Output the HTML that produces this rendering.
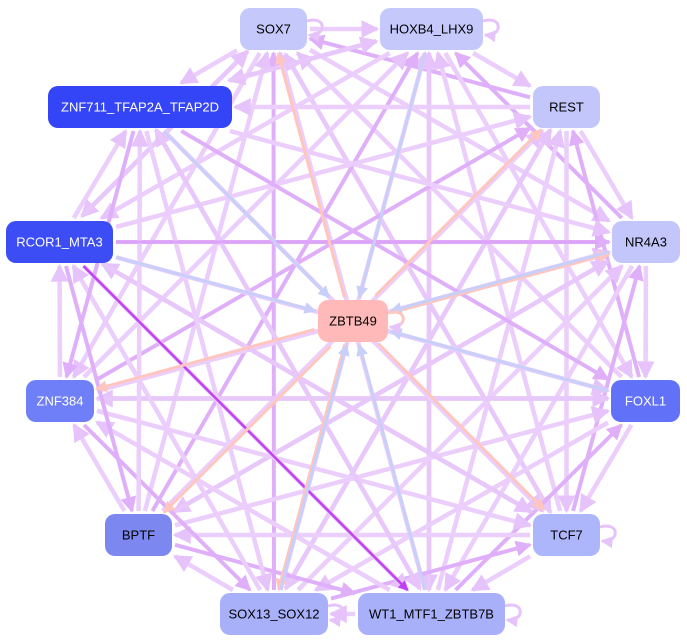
<!DOCTYPE html>
<html><head><meta charset="utf-8"><style>
body{margin:0;background:#fff}
svg{display:block}
text{font-family:"Liberation Sans",sans-serif;font-size:13px;text-anchor:middle;dominant-baseline:central}
</style></head><body>
<svg id="s" width="687" height="644" xmlns="http://www.w3.org/2000/svg">
<defs>
<marker id="a1" markerWidth="4" markerHeight="4" refX="3.5" refY="2" orient="auto" markerUnits="strokeWidth"><path d="M0,0L4,2L0,4z" fill="#e6c3fa"/></marker>
<marker id="a2" markerWidth="4" markerHeight="4" refX="3.5" refY="2" orient="auto" markerUnits="strokeWidth"><path d="M0,0L4,2L0,4z" fill="#dfb0f9"/></marker>
<marker id="a3" markerWidth="4" markerHeight="4" refX="3.5" refY="2" orient="auto" markerUnits="strokeWidth"><path d="M0,0L4,2L0,4z" fill="#c040f2"/></marker>
<marker id="a4" markerWidth="4" markerHeight="4" refX="3.5" refY="2" orient="auto" markerUnits="strokeWidth"><path d="M0,0L4,2L0,4z" fill="#ffc6c0"/></marker>
<marker id="a5" markerWidth="4" markerHeight="4" refX="3.5" refY="2" orient="auto" markerUnits="strokeWidth"><path d="M0,0L4,2L0,4z" fill="#c8cff8"/></marker>
</defs>
<g id="e"></g><g id="n"></g>
</svg>
<script>
var N={
SOX7:[240,8,67,42,'#c5c8fb','#000'],
HOXB4_LHX9:[380,8,103,42,'#c5c8fb','#000'],
ZNF711_TFAP2A_TFAP2D:[48,86,184,42,'#3445f7','#fff'],
REST:[533,86,67,42,'#c2c6fb','#000'],
RCOR1_MTA3:[6,221,107,42,'#3c4df5','#fff'],
NR4A3:[612,221,68,42,'#c2c6fb','#000'],
ZBTB49:[318,300,70,42,'#ffb9b9','#000'],
ZNF384:[26,380,68,42,'#6f7ff7','#fff'],
FOXL1:[611,380,69,42,'#6272f8','#fff'],
BPTF:[105,514,67,42,'#7c88f0','#000'],
TCF7:[533,514,67,42,'#adb5fb','#000'],
SOX13_SOX12:[220,593,108,42,'#a9b0fa','#000'],
WT1_MTF1_ZBTB7B:[358,593,147,42,'#a9b0fa','#000']};
var ns='http://www.w3.org/2000/svg';
function c(k){var r=N[k];return[r[0]+r[2]/2,r[1]+r[3]/2]}
function clip(k,dx,dy){var r=N[k];var hw=r[2]/2+3,hh=r[3]/2+3;var t=Math.min(dx?hw/Math.abs(dx):1e9,dy?hh/Math.abs(dy):1e9);return t}
function line(a,b,col,m,w,off){var p=c(a),q=c(b);var dx=q[0]-p[0],dy=q[1]-p[1];var L=Math.hypot(dx,dy);var ox=-dy/L*(off||0),oy=dx/L*(off||0);
var t1=clip(a,dx,dy),t2=clip(b,dx,dy);
var l=document.createElementNS(ns,'line');l.setAttribute('x1',p[0]+dx*t1+ox);l.setAttribute('y1',p[1]+dy*t1+oy);l.setAttribute('x2',q[0]-dx*t2+ox);l.setAttribute('y2',q[1]-dy*t2+oy);
l.setAttribute('stroke',col);l.setAttribute('stroke-width',w||4);l.setAttribute('marker-end','url(#'+m+')');document.getElementById('e').appendChild(l)}
var ring=['SOX7','HOXB4_LHX9','REST','NR4A3','FOXL1','TCF7','WT1_MTF1_ZBTB7B','SOX13_SOX12','BPTF','ZNF384','RCOR1_MTA3','ZNF711_TFAP2A_TFAP2D'];
for(var i=0;i<ring.length;i++)for(var j=i+1;j<ring.length;j++){
 var h=(i*7+j*3)%5;
 if(h==0){line(ring[i],ring[j],'#e8c8fa','a1',4.5,2.5);line(ring[j],ring[i],'#e8c8fa','a1',4.5,-2.5);}
 else if(h==1)line(ring[j],ring[i],'#dfb0f9','a2',4);
 else line(((i+j)%2)?ring[i]:ring[j],((i+j)%2)?ring[j]:ring[i],'#ebcefb','a1',4.5);
}
line('RCOR1_MTA3','WT1_MTF1_ZBTB7B','#c040f2','a3',2.5);
line('RCOR1_MTA3','NR4A3','#dca3f8','a2',3);
['SOX7','ZNF384','BPTF','SOX13_SOX12','TCF7','NR4A3','REST'].forEach(function(k,i){line('ZBTB49',k,'#ffc6c0','a4',3,i%2?2:-2)});
['ZNF711_TFAP2A_TFAP2D','HOXB4_LHX9','FOXL1','WT1_MTF1_ZBTB7B','NR4A3','SOX13_SOX12','RCOR1_MTA3'].forEach(function(k){line(k,'ZBTB49','#c8cff8','a5',3)});
var g=document.getElementById('e');
function loop(x,y,col){var p=document.createElementNS(ns,'path');p.setAttribute('d','M'+x+','+(y-8)+' c20,-6 20,16 2,14');p.setAttribute('fill','none');p.setAttribute('stroke',col);p.setAttribute('stroke-width',3);p.setAttribute('marker-end','url(#a1)');g.appendChild(p)}
loop(483,29,'#e6c3fa');loop(600,535,'#e6c3fa');loop(505,614,'#e6c3fa');loop(388,321,'#ffc6c0');loop(307,29,'#e6c3fa');loop(328,614,'#e6c3fa');
var ng=document.getElementById('n');
for(var k in N){var r=N[k];var R=document.createElementNS(ns,'rect');R.setAttribute('x',r[0]);R.setAttribute('y',r[1]);R.setAttribute('width',r[2]);R.setAttribute('height',r[3]);R.setAttribute('rx',10);R.setAttribute('fill',r[4]);ng.appendChild(R);
var T=document.createElementNS(ns,'text');T.setAttribute('x',r[0]+r[2]/2);T.setAttribute('y',r[1]+r[3]/2);T.setAttribute('fill',r[5]);T.textContent=k;ng.appendChild(T)}
</script>
</body></html>
